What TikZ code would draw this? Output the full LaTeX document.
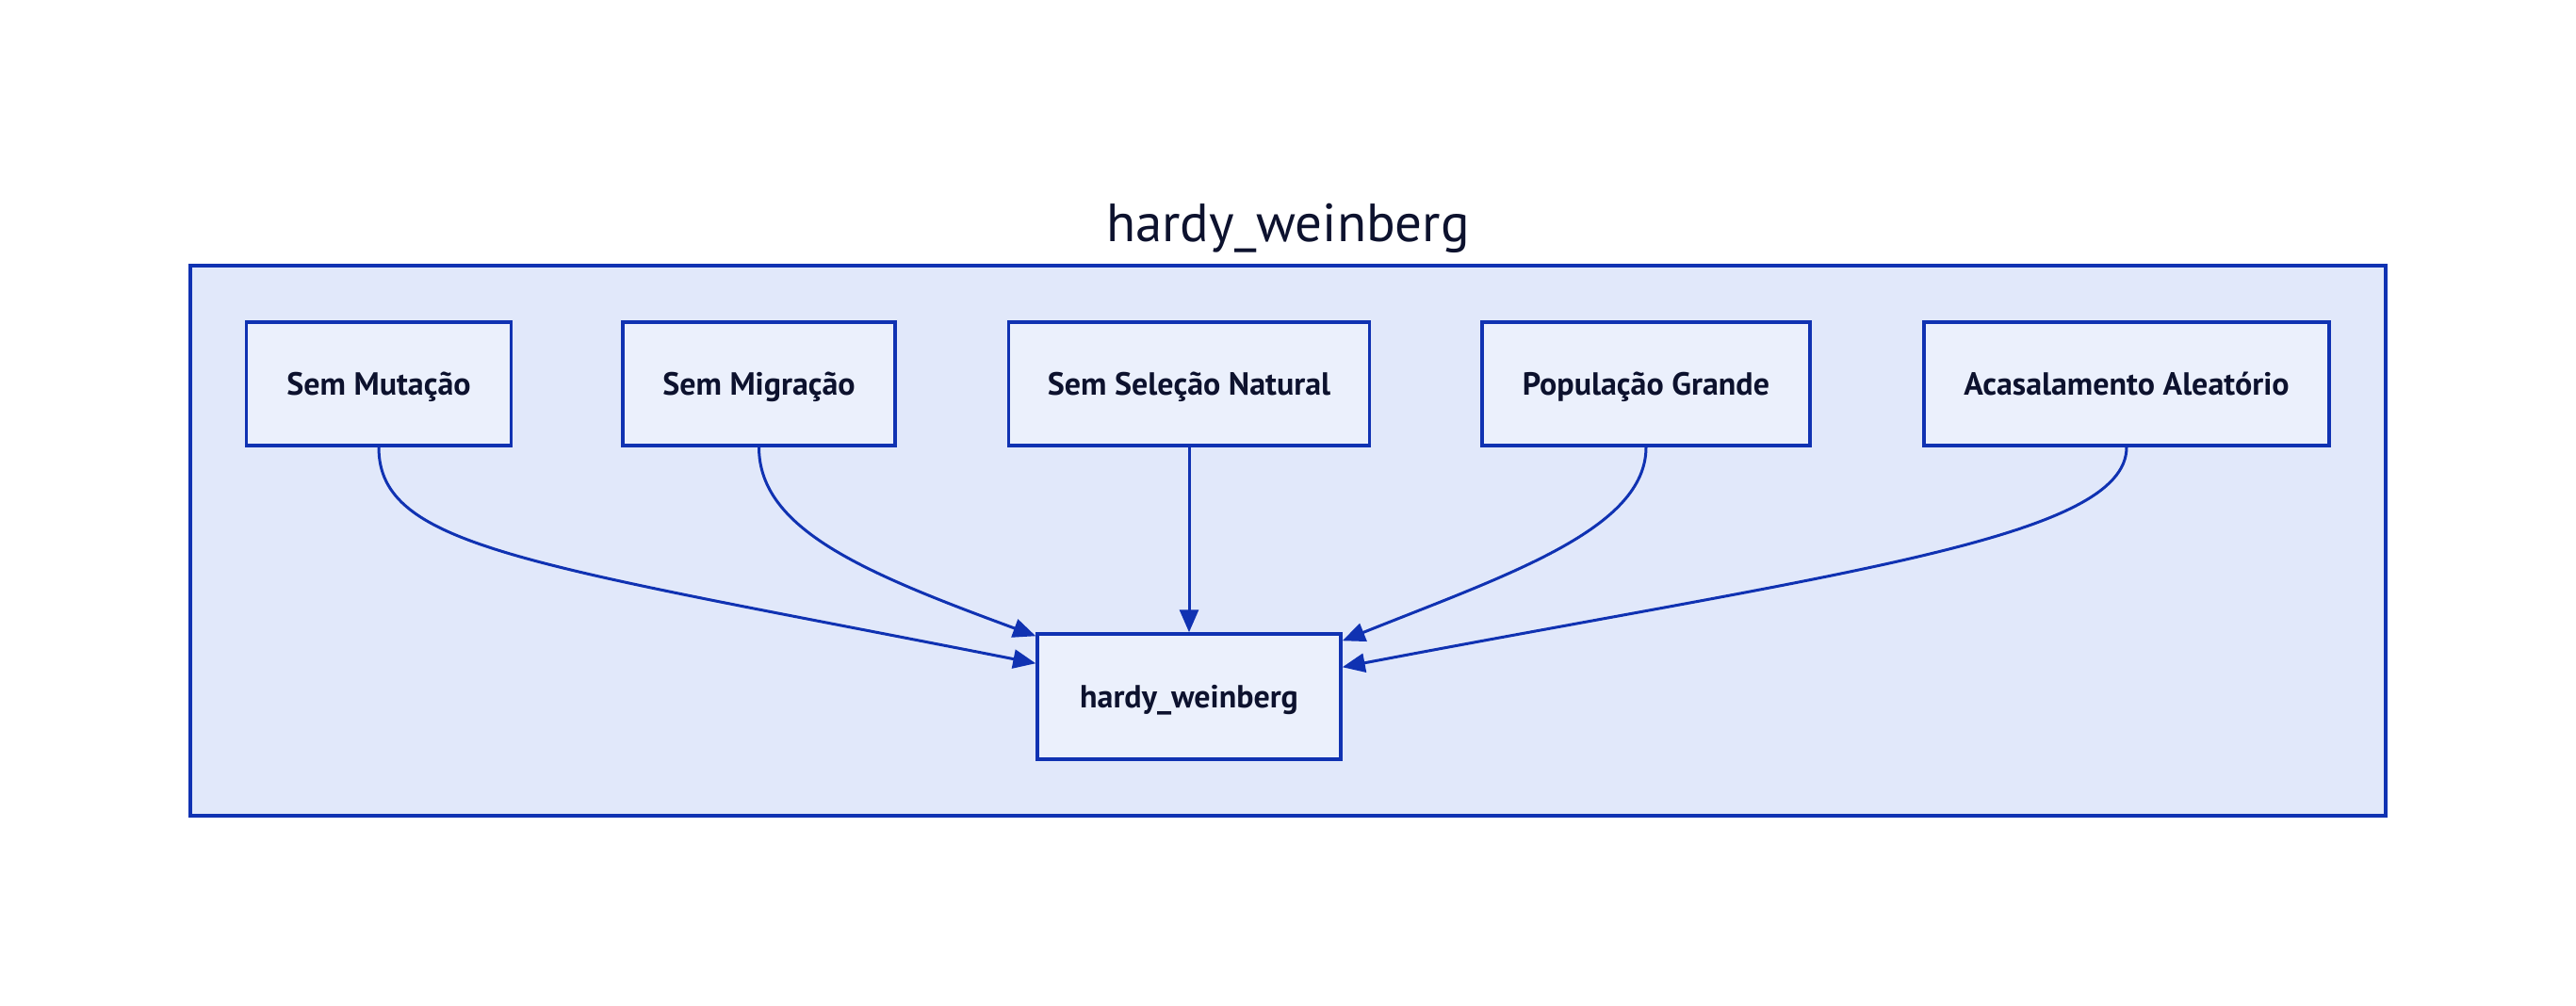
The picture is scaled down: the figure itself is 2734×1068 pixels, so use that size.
\documentclass[tikz,border=0pt]{standalone}
\usepackage{fontspec}
\setmainfont{PT Sans}
\usetikzlibrary{arrows.meta,calc}
\definecolor{edgeblue}{RGB}{16,50,178}
\definecolor{clusterfill}{RGB}{225,232,250}
\definecolor{nodefill}{RGB}{235,240,252}
\definecolor{inkdark}{RGB}{13,18,46}
\begin{document}
\begin{tikzpicture}[x=1pt,y=-1pt,
  box/.style={draw=edgeblue,line width=3.5pt,fill=nodefill,minimum height=131pt,inner sep=0pt,
    text height=23pt,text depth=0pt,
    font=\fontsize{34}{40}\selectfont\bfseries,text=inkdark},
  conn/.style={draw=edgeblue,line width=3pt,-{Triangle[length=24pt,width=20pt]}}]
\useasboundingbox[fill=white] (0,0) rectangle (2734,1068);
\draw[draw=edgeblue,line width=3.5pt,fill=clusterfill] (202,282) rectangle (2532,866);
\node[anchor=base,font=\fontsize{57}{64}\selectfont,text=inkdark] (title) at (1367,256) {hardy\_weinberg};
\node[box,minimum width=281pt] (sm) at (402,407.5) {Sem Mutação};
\node[box,minimum width=289pt] (smig) at (805.5,407.5) {Sem Migração};
\node[box,minimum width=383pt] (ssn) at (1262,407.5) {Sem Seleção Natural};
\node[box,minimum width=348pt] (pg) at (1747,407.5) {População Grande};
\node[box,minimum width=430pt] (aa) at (2257,407.5) {Acasalamento Aleatório};
\node[box,minimum width=322pt,minimum height=133pt] (hw) at (1262,739.5) {hardy\_weinberg};
\coordinate (tsm) at ($(hw.north west)+(0,33)$);
\coordinate (tsmig) at ($(hw.north west)+(0,4)$);
\coordinate (tpg) at ($(hw.north east)+(0,9)$);
\coordinate (taa) at ($(hw.north east)+(0,37)$);
\draw[conn] (sm.south) .. controls +(0,107) and +(-538,-106) .. (tsm);
\draw[conn] (smig.south) .. controls +(0,87) and +(-182,-67) .. (tsmig);
\draw[conn] (ssn.south) -- (hw.north);
\draw[conn] (pg.south) .. controls +(0,87) and +(175,-70) .. (tpg);
\draw[conn] (aa.south) .. controls +(0,97) and +(525,-100) .. (taa);
\end{tikzpicture}
\end{document}
